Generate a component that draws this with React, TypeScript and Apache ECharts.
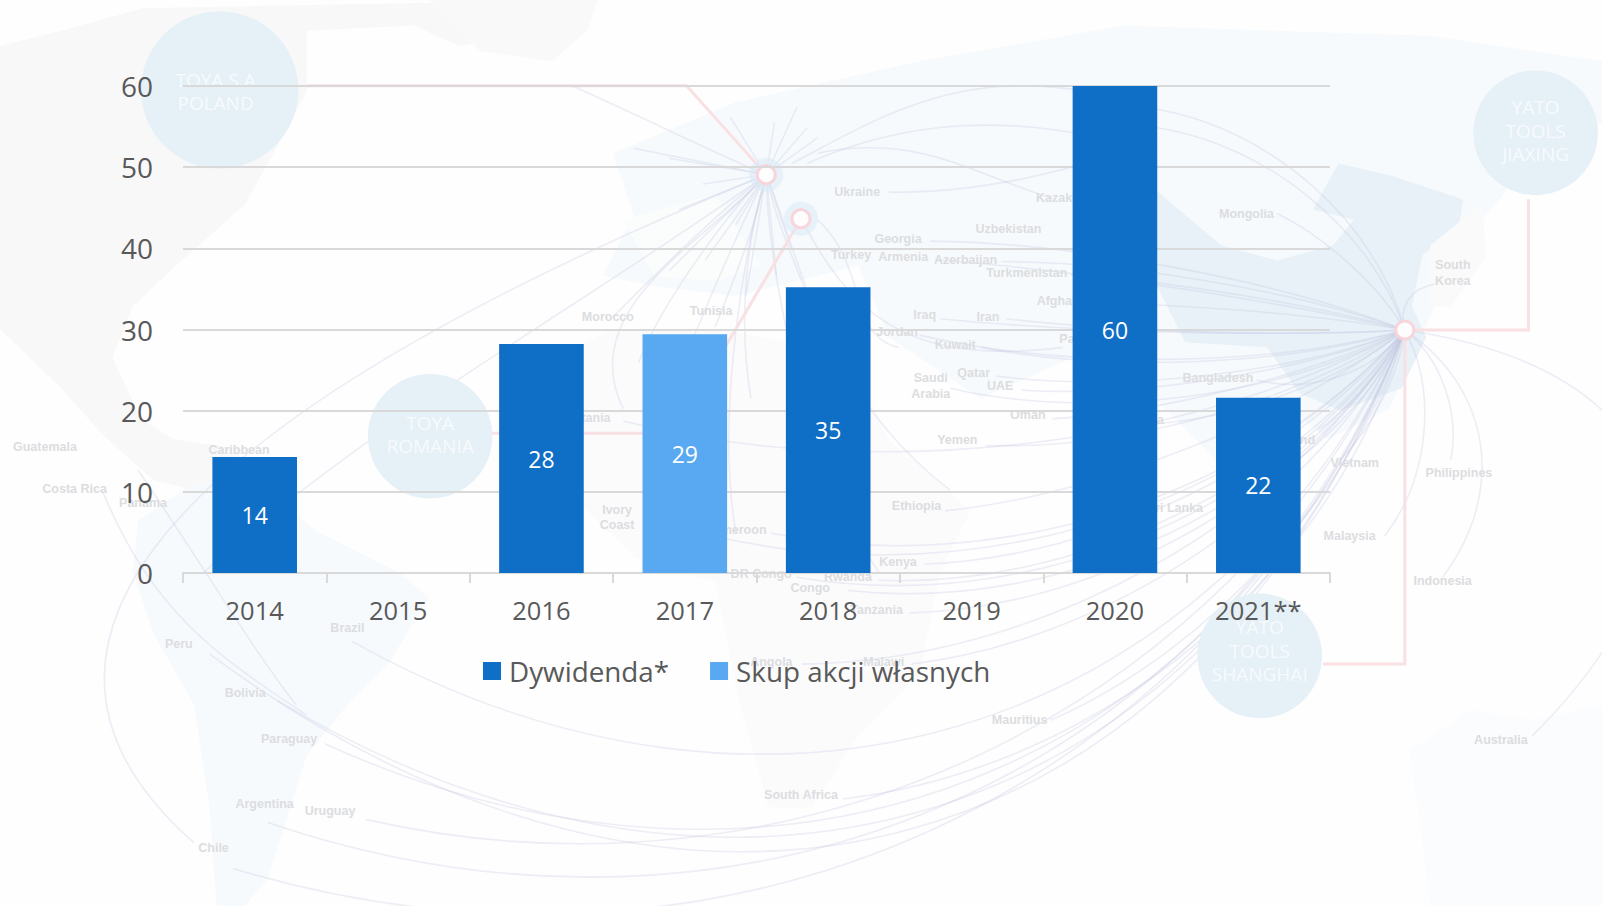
import React, { useEffect, useRef } from "react";
import * as echarts from "echarts";

const categories = ["2014", "2015", "2016", "2017", "2018", "2019", "2020", "2021**"];
const dywidenda = [14.3, null, 28.2, null, 35.2, null, 60, 21.6];
const skup = [null, null, null, 29.4, null, null, null, null];
const yTicks = { min: 0, max: 60, interval: 10 };

// Decorative backdrop (world-map picture of the original), in the coordinates of the shrunk 1568-wide view
const K = 1602 / 1568;
const HUB_CN: [number, number] = [1375, 323];
const HUB_EU: [number, number] = [750, 171];
const HUB_RO: [number, number] = [784, 214];

const lands: [string, number[][]][] = [
  ["#f8f8f9", [[0,45],[60,30],[140,8],[300,5],[585,0],[570,25],[450,45],[405,25],[300,30],[300,90],[262,160],[240,200],[172,260],[130,300],[110,350],[138,410],[170,430],[240,440],[200,482],[150,470],[100,425],[60,380],[0,322]]],
  ["#f9f9fa", [[420,0],[585,0],[575,30],[540,60],[470,50]]],
  ["#f7fafd", [[135,510],[190,472],[250,472],[310,520],[390,560],[420,585],[380,650],[340,690],[300,740],[262,860],[240,887],[212,887],[205,790],[190,690],[150,620],[130,560]]],
  ["#fbfbfc", [[555,345],[600,322],[700,322],[830,345],[870,430],[950,500],[920,560],[900,660],[840,720],[795,790],[752,790],[722,680],[700,570],[620,545],[565,490],[548,420]]],
  ["#f7fafc", [[600,150],[720,100],[900,60],[1100,25],[1400,35],[1568,60],[1568,120],[1480,180],[1430,240],[1395,320],[1360,400],[1300,430],[1245,385],[1200,460],[1130,390],[1050,350],[960,390],[870,330],[840,260],[720,290],[640,280],[590,270],[620,210]]],
  ["#fbfcfc", [[610,215],[700,190],[745,260],[700,275],[640,270]]],
  ["#e7f1f7", [[1130,185],[1195,240],[1250,255],[1305,240],[1325,215],[1285,205],[1310,160],[1362,172],[1432,195],[1428,222],[1392,250],[1382,300],[1396,330],[1372,380],[1312,402],[1272,385],[1240,340],[1160,335],[1125,265]]],
  ["#fbfcfd", [[1380,735],[1440,695],[1500,705],[1568,690],[1568,887],[1400,887]]],
  ["#fafafa", [[1400,240],[1450,200],[1455,250],[1420,300],[1400,300]]],
];

const circles: [number, number, number, number, number, string[]][] = [
  [215, 88, 77, 211, 89.5, ["TOYA S.A", "POLAND"]],
  [421, 427, 61, 421, 425.5, ["TOYA", "ROMANIA"]],
  [1503, 130, 61, 1503, 128, ["YATO", "TOOLS", "JIAXING"]],
  [1233, 642, 61, 1233, 637, ["YATO", "TOOLS", "SHANGHAI"]],
];

const redLines: number[][][] = [
  [[300,84],[672,84],[750,171]],
  [[480,424],[660,424],[784,214]],
  [[1496,195],[1496,323],[1375,323]],
  [[1375,323],[1375,650],[1295,650]],
];

const placeLabels: [string, number, number][] = [
  ["Ukraine",839,188],["Kazakhstan",1048,194],["Georgia",879,234],["Uzbekistan",987,224],["Turkey",833,250],["Armenia",884,252],["Azerbaijan",945,254],["Turkmenistan",1005,267],["Afghanistan",1050,295],["Iraq",905,308],["Iran",967,310],["Jordan",878,325],["Kuwait",935,338],["Pakistan",1062,332],["Saudi",911,370],["Arabia",911,386],["Qatar",953,365],["UAE",979,378],["Oman",1006,406],["Yemen",937,431],["Ethiopia",897,495],["Kenya",879,550],["Morocco",595,310],["Tunisia",696,304],["Mauritania",567,409],["Ivory",604,499],["Coast",604,514],["Cameroon",720,519],["DR Congo",745,562],["Congo",793,576],["Rwanda",830,565],["Tanzania",858,597],["Angola",755,648],["Malawi",865,648],["Mauritius",998,705],["South Africa",784,778],["Caribbean",234,440],["Guatemala",44,438],["Costa Rica",73,479],["Panama",140,492],["Brazil",340,615],["Peru",175,630],["Bolivia",240,678],["Paraguay",283,723],["Argentina",259,787],["Uruguay",323,794],["Chile",209,830],["Mongolia",1220,209],["South",1422,259],["Korea",1422,275],["Bangladesh",1192,370],["India",1125,411],["Sri Lanka",1150,497],["Thailand",1262,431],["Vietnam",1326,453],["Philippines",1428,463],["Malaysia",1321,525],["Indonesia",1412,569],["Australia",1469,724],
];

// [startX, startY, bend]: arcs running into the Chinese hub
const arcsCN: number[][] = [
  [205,640,460],[272,686,400],[318,728,345],[358,802,265],[262,805,330],[228,850,335],[345,628,330],
  [825,782,140],[1028,705,70],[785,650,110],[892,650,90],[890,600,90],[830,578,110],[860,568,90],[780,565,120],[905,552,70],[925,500,40],[755,522,110],[632,505,150],[610,412,90],
  [965,436,40],[1030,410,20],[1000,382,25],[975,368,30],[930,380,50],[960,340,30],[900,328,35],[985,312,10],[920,312,10],[910,236,-25],[915,254,-10],[980,256,-20],[1048,269,-10],[1062,297,-8],
  [1250,209,-15],[1133,107,-60],[1133,125,-55],[1230,372,30],[1190,497,30],[1125,415,25],[1290,421,10],[1312,450,14],[1355,525,38],[1405,278,18],[1420,450,24],[1412,565,75],[1500,720,240],
];

// [startX, startY, c1x, c1y, c2x, c2y, endX, endY]: free arcs
const arcsFree: number[][] = [
  [190,825,-20,640,140,420,750,171],
  [100,480,150,600,210,640,300,700],
  [135,460,190,540,250,640,290,690],
  [560,84,640,120,700,150,750,171],
  [775,160,870,110,960,50,1133,107],
  [790,160,880,120,990,105,1133,150],
  [800,150,900,130,950,170,1030,194],
  [870,188,960,190,1060,165,1133,135],
  [800,215,850,260,830,330,880,340],
  [784,214,830,300,880,360,1040,340],
  [200,560,350,420,600,280,750,171],
  [600,310,640,270,700,210,750,171],
  [625,355,650,290,720,200,750,171],
  [655,390,690,300,730,210,750,171],
  [610,400,560,300,700,230,750,171],
  [700,320,720,270,740,220,750,171],
  [735,390,720,300,735,220,750,171],
  [720,520,700,400,730,240,750,171],
  [790,290,780,260,760,220,750,171],
  [930,480,800,380,780,240,750,171],
  [860,560,780,440,750,240,750,171],
];

// [endX, endY]: short spokes around the Polish hub
const spokes: number[][] = [
  [620,145],[655,155],[665,205],[690,255],[655,265],[720,220],[730,290],[760,270],[775,245],[758,120],[780,105],[790,125],[715,115],[800,135],[688,180],
];

function arcShape(sx: number, sy: number, bend: number, ex: number, ey: number) {
  const dx = ex - sx, dy = ey - sy, len = Math.hypot(dx, dy) || 1;
  const nx = -dy / len, ny = dx / len;
  return {
    x1: sx * K, y1: sy * K, x2: ex * K, y2: ey * K,
    cpx1: (sx + dx * 0.3 + nx * bend) * K, cpy1: (sy + dy * 0.3 + ny * bend) * K,
    cpx2: (sx + dx * 0.72 + nx * bend) * K, cpy2: (sy + dy * 0.72 + ny * bend) * K,
  };
}

const ARC_STYLE = { stroke: "rgba(196,200,224,0.3)", lineWidth: 1.6, fill: "none" };
const RED = "#f9e0e3";

function backdrop(): any[] {
  const out: any[] = [];
  out.push({ type: "rect", shape: { x: 0, y: 0, width: 1602, height: 906 }, style: { fill: "#fefefe" }, silent: true, z: -10 });
  lands.forEach(([fill, pts]) =>
    out.push({ type: "polygon", shape: { points: pts.map(([x, y]) => [x * K, y * K]) }, style: { fill }, silent: true, z: -9 }));
  arcsCN.forEach(([x, y, b]) =>
    out.push({ type: "bezierCurve", shape: arcShape(x, y, b, HUB_CN[0], HUB_CN[1]), style: ARC_STYLE, silent: true, z: -8 }));
  arcsFree.forEach(([a, b, c, d, e, f, g, h]) =>
    out.push({ type: "bezierCurve", shape: { x1: a*K, y1: b*K, cpx1: c*K, cpy1: d*K, cpx2: e*K, cpy2: f*K, x2: g*K, y2: h*K }, style: ARC_STYLE, silent: true, z: -8 }));
  spokes.forEach(([x, y]) =>
    out.push({ type: "line", shape: { x1: HUB_EU[0]*K, y1: HUB_EU[1]*K, x2: x*K, y2: y*K }, style: { stroke: "rgba(196,205,228,0.34)", lineWidth: 1.5 }, silent: true, z: -8 }));
  redLines.forEach((pts) =>
    out.push({ type: "polyline", shape: { points: pts.map(([x, y]) => [x*K, y*K]) }, style: { stroke: RED, lineWidth: 3, fill: "none" }, silent: true, z: -7 }));
  [HUB_EU, HUB_RO, HUB_CN].forEach(([x, y], i) => {
    if (i < 2) out.push({ type: "circle", shape: { cx: x*K, cy: y*K, r: 17 }, style: { fill: "rgba(218,234,245,0.55)" }, silent: true, z: -7 });
    out.push({ type: "circle", shape: { cx: x*K, cy: y*K, r: 9 }, style: { fill: "#fdfdfe", stroke: "#f7d5da", lineWidth: 3 }, silent: true, z: -6 });
  });
  circles.forEach(([x, y, r, tx, ty, lines]) => {
    out.push({ type: "circle", shape: { cx: x*K, cy: y*K, r: r*K }, style: { fill: "#e5f0f7" }, silent: true, z: -6 });
    lines.forEach((t, i) =>
      out.push({ type: "text", silent: true, z: -5, x: tx*K, y: (ty + (i - (lines.length - 1) / 2) * 23) * K,
        style: { text: t, fill: "#f7fbfd", font: "19px 'Open Sans'", textAlign: "center", textVerticalAlign: "middle" } }));
  });
  placeLabels.forEach(([t, x, y]) =>
    out.push({ type: "text", silent: true, z: -5, x: x*K, y: y*K,
      style: { text: t, fill: "#dcdde0", font: "bold 12.5px 'Liberation Sans'", textAlign: "center", textVerticalAlign: "middle" } }));
  return out;
}

export default function App() {
  const ref = useRef<HTMLDivElement>(null);
  useEffect(() => {
    document.body.style.margin = "0";
    const chart = echarts.init(ref.current!, null, { renderer: "svg" });
    const label = {
      show: true, position: "inside", color: "#ffffff", fontFamily: "Open Sans", fontSize: 23,
      formatter: (p: any) => String(Math.round(p.value)),
    };
    chart.setOption({
      animation: false,
      backgroundColor: "#fefefe",
      textStyle: { fontFamily: "Open Sans" },
      graphic: backdrop(),
      grid: { left: 183, right: 272, top: 86, bottom: 333, containLabel: false },
      legend: {
        left: 478, top: 652, itemWidth: 18, itemHeight: 18, itemGap: 41,
        icon: "rect",
        textStyle: { color: "#595959", fontFamily: "Open Sans", fontSize: 27.8, padding: [0, 0, 0, 3] },
        data: ["Dywidenda*", "Skup akcji własnych"],
      },
      xAxis: {
        type: "category", data: categories,
        axisLine: { lineStyle: { color: "#d9d9d9", width: 2 } },
        axisTick: { show: true, alignWithLabel: false, length: 10, lineStyle: { color: "#d9d9d9", width: 2 } },
        axisLabel: { color: "#595959", fontSize: 25.5, margin: 24, interval: 0 },
      },
      yAxis: {
        type: "value", ...yTicks,
        axisLine: { show: false }, axisTick: { show: false },
        axisLabel: { color: "#595959", fontSize: 28, margin: 30, lineHeight: 28, padding: [0, 0, 5, 0] },
        splitLine: { lineStyle: { color: "#d9d9d9", width: 2 } },
      },
      series: [
        { name: "Dywidenda*", type: "bar", data: dywidenda, barWidth: "59%", barGap: "-100%", itemStyle: { color: "#0f6ec6" }, label },
        { name: "Skup akcji własnych", type: "bar", data: skup, barWidth: "59%", itemStyle: { color: "#58a8f2" }, label },
      ],
    });
    return () => chart.dispose();
  }, []);
  return <div ref={ref} style={{ position: "absolute", left: 0, top: 0, width: 1602, height: 906 }} />;
}
